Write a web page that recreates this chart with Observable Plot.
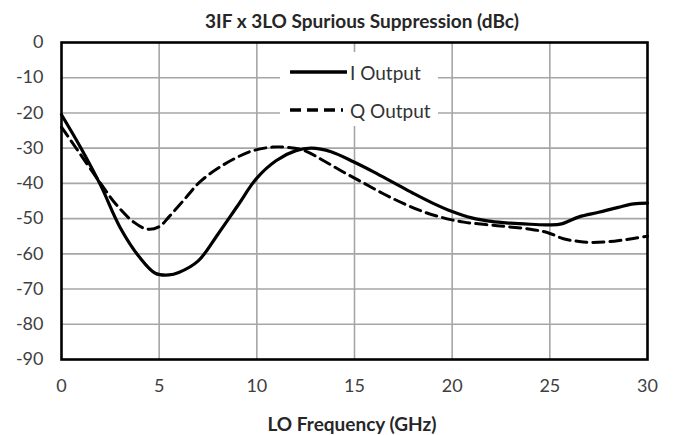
<!DOCTYPE html>
<html>
<head>
<meta charset="utf-8">
<script src="https://cdn.jsdelivr.net/npm/d3@7"></script>
<script src="https://cdn.jsdelivr.net/npm/@observablehq/plot@0.6"></script>
<style>
  body { margin: 0; background: #fff; }
  #wrap { position: relative; width: 679px; height: 435px; font-family: Lato, "Open Sans", sans-serif; background: #fff; }
  #title { height: 30px; box-sizing: border-box; padding-top: 11px; padding-left: 45px; line-height: 19px;
           font-size: 19px; font-weight: 700; color: #262626; text-align: center; white-space: nowrap; }
  #xlabel { height: 36px; box-sizing: border-box; padding-top: 15px; padding-left: 25px; line-height: 20px;
            font-size: 19px; font-weight: 700; color: #262626; text-align: center; white-space: nowrap; }
  #legend { position: absolute; left: 280px; top: 52px; width: 158px; height: 74px; background: #fff; }
  #chart svg { display: block; }
</style>
</head>
<body>
<div id="wrap">
  <div id="title"></div>
  <div id="chart"></div>
  <div id="xlabel"></div>
  <div id="legend"></div>
</div>
<script>
// ---- data ----
const titleText = "3IF x 3LO Spurious Suppression (dBc)";
const xLabelText = "LO Frequency (GHz)";
const seriesNames = ["I Output", "Q Output"];
const xTicks = [0, 5, 10, 15, 20, 25, 30];
const yTicks = [0, -10, -20, -30, -40, -50, -60, -70, -80, -90];

const freqI = [0, 1, 2, 3, 4, 4.8, 5.5, 6, 7, 8, 9, 10, 11, 12, 12.8, 13.8, 15, 16, 17, 18, 19, 20, 21, 22, 23, 24, 25, 25.6, 26.5, 27.5, 28.5, 29.3, 30];
const valsI = [-20.5, -30, -40.5, -52.5, -61, -65.5, -66, -65.3, -62, -54.5, -46.5, -38.5, -33.5, -30.7, -30, -31, -34, -36.8, -39.8, -42.8, -45.6, -48, -49.8, -50.8, -51.3, -51.6, -51.8, -51.5, -49.5, -48.2, -46.8, -45.8, -45.6];

const freqQ = [0, 0.5, 1.1, 2, 2.8, 3.7, 4.4, 5, 5.5, 6.3, 7.1, 8.3, 9.7, 10.8, 11.6, 12.4, 13.4, 14.5, 15.5, 16.5, 17.5, 18.5, 19.5, 20.6, 22.3, 24, 24.9, 25.7, 26.5, 27.2, 28.3, 29.2, 30];
const valsQ = [-24, -28, -32.8, -40, -46, -51, -53, -52.3, -49.5, -44.5, -39.5, -34.7, -30.9, -29.7, -29.8, -30.6, -33.5, -37, -40, -43, -45.7, -48, -49.7, -51, -52, -53, -54, -55.7, -56.5, -56.8, -56.4, -55.7, -55];

// ---- build ----
const dataI = freqI.map((f, i) => ({f, v: valsI[i]}));
const dataQ = freqQ.map((f, i) => ({f, v: valsQ[i]}));

document.getElementById("title").textContent = titleText;
document.getElementById("xlabel").textContent = xLabelText;

const gridStyle = {stroke: "#a6a6a6", strokeOpacity: 1, strokeWidth: 1.6};

const chart = Plot.plot({
  width: 679,
  height: 369,
  marginLeft: 61,
  marginRight: 32,
  marginTop: 12,
  marginBottom: 40,
  style: {fontFamily: "Lato, 'Open Sans', sans-serif", fontSize: "18px", color: "#404040", background: "none", overflow: "visible"},
  x: {domain: [0, 30]},
  y: {domain: [-90, 0]},
  marks: [
    Plot.gridX(xTicks.slice(1, -1), gridStyle),
    Plot.gridY(yTicks.slice(1, -1), gridStyle),
    Plot.axisX({ticks: xTicks, tickSize: 0, tickPadding: 20, label: null, tickFormat: d => String(d)}),
    Plot.axisY({ticks: yTicks, tickSize: 0, tickPadding: 18, label: null, tickFormat: d => String(d)}),
    Plot.line(dataQ, {x: "f", y: "v", stroke: "black", strokeWidth: 3, strokeDasharray: "11,6", curve: "catmull-rom"}),
    Plot.line(dataI, {x: "f", y: "v", stroke: "black", strokeWidth: 3.2, curve: "catmull-rom"}),
    Plot.frame({stroke: "black", strokeWidth: 2.6})
  ]
});
document.getElementById("chart").appendChild(chart);

// legend
const ns = "http://www.w3.org/2000/svg";
const lsvg = document.createElementNS(ns, "svg");
lsvg.setAttribute("width", 158);
lsvg.setAttribute("height", 74);
const rows = [
  {name: seriesNames[0], y: 20, x2: 67, dash: null},
  {name: seriesNames[1], y: 58, x2: 63, dash: "11,6"}
];
rows.forEach(r => {
  const ln = document.createElementNS(ns, "line");
  ln.setAttribute("x1", 10); ln.setAttribute("x2", r.x2);
  ln.setAttribute("y1", r.y); ln.setAttribute("y2", r.y);
  ln.setAttribute("stroke", "black"); ln.setAttribute("stroke-width", 3.5);
  if (r.dash) ln.setAttribute("stroke-dasharray", r.dash);
  lsvg.appendChild(ln);
  const tx = document.createElementNS(ns, "text");
  tx.setAttribute("x", 70); tx.setAttribute("y", r.y);
  tx.setAttribute("dominant-baseline", "central");
  tx.setAttribute("font-family", "Lato, 'Open Sans', sans-serif");
  tx.setAttribute("font-size", 19);
  tx.setAttribute("fill", "#333");
  tx.textContent = r.name;
  lsvg.appendChild(tx);
});
document.getElementById("legend").appendChild(lsvg);
</script>
</body>
</html>
